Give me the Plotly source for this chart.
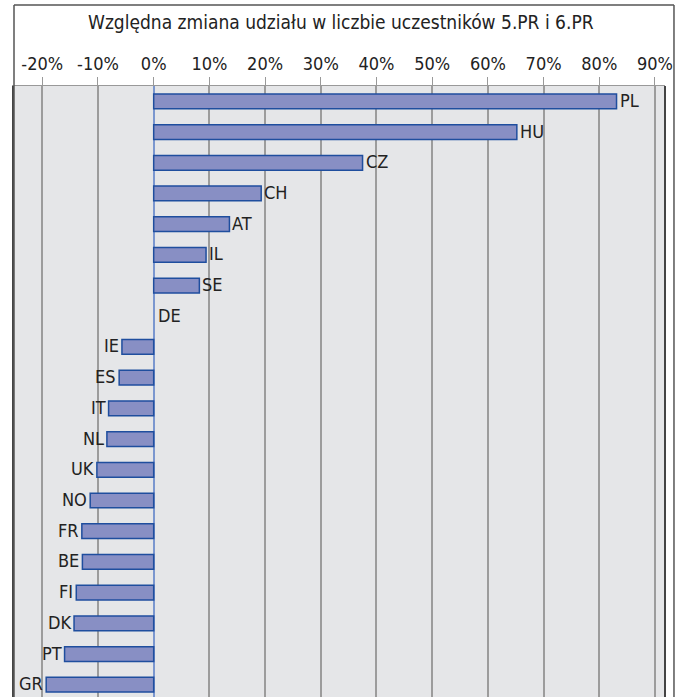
import plotly.graph_objects as go

countries = ["PL", "HU", "CZ", "CH", "AT", "IL", "SE", "DE", "IE", "ES",
             "IT", "NL", "UK", "NO", "FR", "BE", "FI", "DK", "PT", "GR"]
change_pct = [83.1, 65.2, 37.5, 19.3, 13.6, 9.4, 8.2, 0.0, -5.7, -6.2,
              -8.1, -8.4, -10.2, -11.4, -12.9, -12.8, -13.9, -14.3, -16.0, -19.3]
tick_vals = [-20, -10, 0, 10, 20, 30, 40, 50, 60, 70, 80, 90]
tick_text = ["-20%", "-10%", "0%", "10%", "20%", "30%", "40%", "50%",
             "60%", "70%", "80%", "90%"]
title_text = "Względna zmiana udziału w liczbie uczestników 5.PR i 6.PR"

FONT = "DejaVu Sans Condensed, Liberation Sans Narrow, Arial Narrow, sans-serif"

fig = go.Figure()
fig.add_trace(go.Bar(
    x=change_pct, y=countries, orientation="h", width=0.48,
    marker=dict(color="rgb(136,143,196)",
                line=dict(color="#1F4E9E", width=[1.5 if v != 0 else 0 for v in change_pct])),
    hoverinfo="skip",
))

for c, v in zip(countries, change_pct):
    if v >= 0:
        fig.add_annotation(x=v, y=c, text=c, showarrow=False, xanchor="left",
                           xshift=1 if v > 0 else 2, yshift=1,
                           font=dict(family=FONT, size=18, color="#222"))
    else:
        fig.add_annotation(x=v, y=c, text=c, showarrow=False, xanchor="right",
                           xshift=-1, yshift=1,
                           font=dict(family=FONT, size=18, color="#222"))

# outer frame
frame = dict(color="#555", width=1.5)
fig.add_shape(type="line", xref="paper", yref="paper", x0=0, x1=0, y0=-0.1, y1=1.1326, line=frame)
fig.add_shape(type="line", xref="paper", yref="paper", x0=0, x1=1.0138, y0=1.1326, y1=1.1326, line=frame)
fig.add_shape(type="line", xref="paper", yref="paper", x0=1.0138, x1=1.0138, y0=-0.1, y1=1.1326, line=frame)
fig.add_shape(type="line", xref="paper", yref="paper", x0=1, x1=1, y0=-0.1, y1=1, line=dict(color="#444", width=2))

fig.add_annotation(text=title_text, xref="paper", yref="paper", x=0.503, y=1.1047,
                   yanchor="middle", showarrow=False,
                   font=dict(family=FONT, size=19, color="#222"))

fig.update_layout(
    width=679, height=697,
    margin=dict(l=14, r=14, t=86, b=0),
    paper_bgcolor="white", plot_bgcolor="#E5E6E8",
    showlegend=False, bargap=0.5,
    font=dict(family=FONT, size=18, color="#222"),
    xaxis=dict(side="top", range=[-25.08, 91.8], tickvals=tick_vals, ticktext=tick_text,
               showgrid=True, gridcolor="#9C9C9C", gridwidth=1.5,
               zeroline=True, zerolinecolor="#7B97CF", zerolinewidth=2,
               ticks="outside", ticklen=8, tickcolor="#999", tickwidth=1,
               showline=True, linecolor="#999", linewidth=1,
               tickfont=dict(family=FONT, size=18, color="#222"), fixedrange=True),
    yaxis=dict(range=[19.4, -0.5], showticklabels=False, showgrid=False, zeroline=False,
               showline=True, linecolor="#444", linewidth=1.5, fixedrange=True),
)

fig.write_html("out.html", config={"displayModeBar": False},
               post_script="document.body.style.margin='0px';")
